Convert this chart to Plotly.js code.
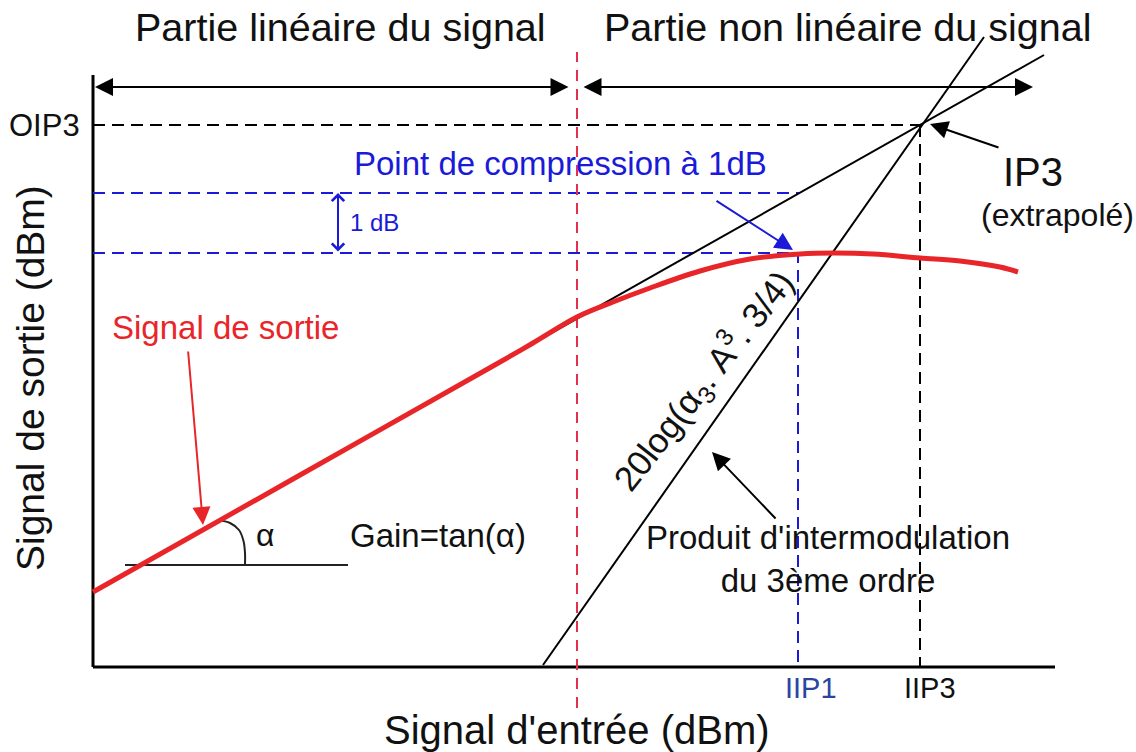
<!DOCTYPE html>
<html><head><meta charset="utf-8">
<script src="https://cdn.plot.ly/plotly-3.0.1.min.js"></script>
<style>html,body{margin:0;padding:0;background:#fff}</style>
</head><body><div id="chart" style="width:1136px;height:752px"></div>
<script>
// ---- data (abstract dBm-like units) ----
const axisXExtent = [0, 96.2];          // input axis extent
const axisYExtent = [0, 59.2];          // output axis extent
const outX = [0, 20, 40, 44, 48.4, 52, 55.7, 60.7, 65.7, 70.7, 74, 78, 82.7, 86.7, 90.7, 92.5];
const outY = [7.5, 18.8, 30.1, 32.4, 35.0, 36.5, 37.9, 39.6, 40.8, 41.3, 41.4, 41.3, 40.9, 40.6, 40.0, 39.5];
const gainX = [17.5, 95.1];
const gainY = [17.4, 61.2];
const im3X = [45.0, 89.1];
const im3Y = [0.2, 63.0];
const IIP3 = 82.7, OIP3 = 54.2;
const IIP1 = 70.5, P1dB = 41.4, PlinAtIIP1 = 47.4;
const compLineEnd = 70.7;
const linearLimit = 48.4;
const limitSpan = [-4.1, 61.5];
const regionArrowY = 58.0;
const linArrow = [0.2, 47.7];
const nonLinArrow = [48.9, 94.0];
const oneDbArrowX = 24.5;
const refLineX = [3.2, 25.5], refLineY = [10.2, 10.2];
const arcX = [12.5, 13.7, 14.6, 15.05, 15.2, 15.2];
const arcY = [14.7, 14.4, 13.7, 12.6, 11.4, 10.3];

const F = 'Liberation Sans, Arial, sans-serif';
const BLUE = '#1a1ad8', RED = '#e8262a', BLK = '#000';

const traces = [
  {x: axisXExtent, y: [0, 0], mode: 'lines', line: {color: BLK, width: 3}},
  {x: [0, 0], y: axisYExtent, mode: 'lines', line: {color: BLK, width: 3}},
  {x: [0, IIP3, null, IIP3, IIP3], y: [OIP3, OIP3, null, OIP3, 0], mode: 'lines', line: {color: BLK, width: 2, dash: '12px,7px'}},
  {x: [0, compLineEnd, null, 0, IIP1, IIP1], y: [PlinAtIIP1, PlinAtIIP1, null, P1dB, P1dB, 0], mode: 'lines', line: {color: BLUE, width: 2, dash: '12px,7px'}},
  {x: [linearLimit, linearLimit], y: limitSpan, mode: 'lines', line: {color: '#e3304c', width: 2, dash: '11px,8px'}},
  {x: gainX, y: gainY, mode: 'lines', line: {color: BLK, width: 2}},
  {x: im3X, y: im3Y, mode: 'lines', line: {color: BLK, width: 2}},
  {x: refLineX, y: refLineY, mode: 'lines', line: {color: '#222', width: 2}},
  {x: arcX, y: arcY, mode: 'lines', line: {color: '#222', width: 2, shape: 'spline'}},
  {x: outX, y: outY, mode: 'lines', line: {color: RED, width: 5, shape: 'spline', smoothing: 1}}
];

function arrow(x0, y0, x1, y1, color, opts) {
  return Object.assign({x: x1, y: y1, ax: x0, ay: y0, xref: 'x', yref: 'y', axref: 'x', ayref: 'y',
    text: '', showarrow: true, arrowhead: 2, arrowsize: 1.8, arrowwidth: 2, arrowcolor: color, standoff: 0, startstandoff: 0}, opts || {});
}
function txt(x, y, s, size, color, opts) {
  return Object.assign({x: x, y: y, xref: 'x', yref: 'y', text: s, showarrow: false,
    font: {family: F, size: size, color: color}}, opts || {});
}

const annotations = [
  arrow(linArrow[1], regionArrowY, linArrow[0], regionArrowY, BLK, {arrowside: 'end+start'}),
  arrow(nonLinArrow[0], regionArrowY, nonLinArrow[1], regionArrowY, BLK, {arrowside: 'end+start'}),
  arrow(oneDbArrowX, P1dB, oneDbArrowX, PlinAtIIP1, BLUE, {arrowside: 'end+start', arrowhead: 4, arrowsize: 1.2}),
  arrow(62.2, 46.7, 70.0, 41.7, BLUE),
  arrow(9.5, 31.7, 11.0, 14.2, RED),
  arrow(90.7, 51.9, 83.7, 54.3, BLK),
  arrow(68.4, 14.7, 61.9, 21.5, BLK),
  txt(24.7, 64.0, 'Partie linéaire du signal', 39.5, '#111'),
  txt(75.4, 64.0, 'Partie non linéaire du signal', 39.5, '#111'),
  txt(-1.1, OIP3, 'OIP3', 31, '#111', {xanchor: 'right'}),
  txt(46.7, 50.4, 'Point de compression à 1dB', 33, BLUE),
  txt(25.5, 44.5, '1 dB', 24, BLUE, {xanchor: 'left'}),
  txt(13.2, 34.0, 'Signal de sortie', 33, RED),
  txt(17.2, 13.2, 'α', 32, '#111'),
  txt(25.5, 13.2, 'Gain=tan(α)', 33, '#111', {xanchor: 'left'}),
  txt(73.5, 10.8, "Produit d'intermodulation<br>du 3ème ordre", 33, '#111'),
  txt(94.0, 49.5, 'IP3', 40, '#111'),
  txt(96.4, 45.2, '(extrapolé)', 32, '#111'),
  txt(71.8, -2.1, 'IIP1', 29, '#2a45a0'),
  txt(83.7, -2.1, 'IIP3', 29, '#111'),
  txt(-6.3, 28.9, 'Signal de sortie (dBm)', 39, '#111', {textangle: -90}),
  txt(48.4, -6.3, "Signal d'entrée (dBm)", 40, '#111'),
  txt(61.0, 28.6, '20log(α<sub>3</sub>. A<sup>3</sup>. 3/4)', 35, '#111', {textangle: -52})
];

const layout = {
  width: 1136, height: 752,
  margin: {l: 0, r: 0, t: 0, b: 0},
  paper_bgcolor: '#fff', plot_bgcolor: '#fff',
  showlegend: false, hovermode: false,
  xaxis: {range: [-9.3, 104.3], visible: false, fixedrange: true},
  yaxis: {range: [-8.5, 66.7], visible: false, fixedrange: true},
  annotations: annotations
};
Plotly.newPlot('chart', traces, layout, {staticPlot: true, displayModeBar: false});
</script></body></html>
